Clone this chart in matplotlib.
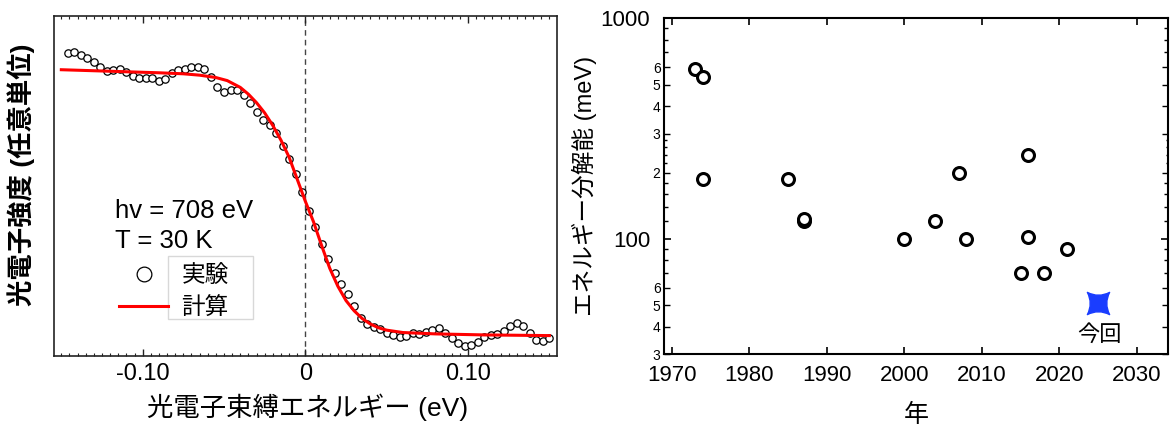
import matplotlib.pyplot as plt
from matplotlib.path import Path
from matplotlib.patches import Rectangle
from matplotlib.ticker import FixedLocator, FixedFormatter, MultipleLocator, NullFormatter

plt.rcParams['font.family'] = ['Liberation Sans', 'Noto Sans CJK JP']

# --- left panel: Fermi edge (arbitrary units) ---
ENERGY = [-0.146, -0.142, -0.138, -0.134, -0.130, -0.126, -0.122, -0.118, -0.114, -0.110,
          -0.106, -0.102, -0.098, -0.094, -0.090, -0.086, -0.082, -0.078, -0.074, -0.070,
          -0.066, -0.062, -0.058, -0.054, -0.050, -0.046, -0.042, -0.038, -0.034, -0.030,
          -0.026, -0.022, -0.018, -0.014, -0.010, -0.006, -0.002, 0.002, 0.006, 0.010,
          0.014, 0.018, 0.022, 0.026, 0.030, 0.034, 0.038, 0.042, 0.046, 0.050,
          0.054, 0.058, 0.062, 0.066, 0.070, 0.074, 0.078, 0.082, 0.086, 0.090,
          0.094, 0.098, 0.102, 0.106, 0.110, 0.114, 0.118, 0.122, 0.126, 0.130,
          0.134, 0.138, 0.142, 0.146, 0.150]
INTENSITY = [0.890, 0.894, 0.884, 0.876, 0.864, 0.851, 0.839, 0.841, 0.844, 0.834,
             0.824, 0.819, 0.818, 0.818, 0.810, 0.815, 0.831, 0.841, 0.843, 0.850,
             0.851, 0.844, 0.821, 0.792, 0.776, 0.782, 0.782, 0.768, 0.743, 0.718,
             0.694, 0.679, 0.657, 0.618, 0.579, 0.534, 0.483, 0.426, 0.379, 0.329,
             0.284, 0.245, 0.212, 0.181, 0.147, 0.113, 0.094, 0.086, 0.079, 0.069,
             0.062, 0.055, 0.059, 0.067, 0.065, 0.070, 0.076, 0.081, 0.069, 0.052,
             0.037, 0.029, 0.032, 0.042, 0.055, 0.062, 0.064, 0.074, 0.088, 0.096,
             0.088, 0.069, 0.047, 0.045, 0.052]

CALC_E = [-0.150, -0.130, -0.110, -0.090, -0.075, -0.065, -0.055, -0.048,
          -0.040, -0.035, -0.030, -0.025, -0.020, -0.015, -0.010, -0.005,
          0.000, 0.005, 0.010, 0.015, 0.020, 0.025, 0.030, 0.035, 0.040, 0.045, 0.050,
          0.060, 0.080, 0.110, 0.150]
CALC_I = [0.842, 0.839, 0.836, 0.833, 0.830, 0.826, 0.819, 0.810,
          0.790, 0.770, 0.745, 0.715, 0.678, 0.635, 0.585, 0.520,
          0.455, 0.395, 0.325, 0.258, 0.205, 0.163, 0.133, 0.110, 0.094, 0.083, 0.076,
          0.069, 0.065, 0.062, 0.060]

E_TICKS = [-0.10, 0.0, 0.10]
E_TICKLABELS = ['-0.10', '0', '0.10']

# --- right panel: energy resolution vs year ---
YEARS = [1973, 1974, 1974, 1985, 1987, 1987, 2000, 2004, 2007, 2008, 2015, 2016, 2016, 2018, 2021]
RESOLUTION = [590, 540, 186, 186, 120, 123, 100, 120, 200, 100, 70, 240, 102, 70, 90]
THIS_WORK_YEAR = [2025]
THIS_WORK_RES = [51]

YEAR_TICKS = [1970, 1980, 1990, 2000, 2010, 2020, 2030]
RES_MAJOR = [100, 1000]
RES_MAJOR_LABELS = ['100', '1000']
RES_MINOR = [30, 40, 50, 60, 70, 80, 90, 120, 140, 160, 180, 200, 220, 240, 260, 280,
             300, 400, 500, 600, 700, 800, 900]
RES_MINOR_LABELS = ['3', '4', '5', '6', '', '', '', '', '', '', '', '2', '', '', '', '',
                    '3', '4', '5', '6', '', '', '']

W, H = 1174, 425
fig = plt.figure(figsize=(W / 100, H / 100), dpi=100)

# ---------------- left panel ----------------
ax1 = fig.add_axes([54 / W, (H - 356) / H, 503 / W, 340 / H])
ax1.axvline(0, color='#444444', lw=1.0, ls=(0, (4, 3)), zorder=1)
ax1.plot(ENERGY, INTENSITY, 'o', ms=5.3, mfc='white', mec='black', mew=0.9,
         label='実験', zorder=2)
ax1.plot(CALC_E, CALC_I, color='#ff0000', lw=2.2, label='計算', zorder=3)

ax1.set_xlim(-0.1545, 0.1547)
ax1.set_ylim(0, 1)
ax1.set_yticks([])
ax1.xaxis.set_major_locator(FixedLocator(E_TICKS))
ax1.xaxis.set_major_formatter(FixedFormatter(E_TICKLABELS))
ax1.xaxis.set_minor_locator(MultipleLocator(0.005))
ax1.tick_params(axis='x', which='both', direction='in', top=True, color='#222222')
ax1.tick_params(axis='x', which='major', length=5, width=1.0, labelsize=17, pad=5)
ax1.tick_params(axis='x', which='minor', length=2.5, width=0.8)
for sp in ax1.spines.values():
    sp.set_color('#222222')
    sp.set_linewidth(1.2)

ax1.set_xlabel('光電子束縛エネルギー (eV)', fontsize=19)
ax1.xaxis.set_label_coords(0.505, -0.109)
ax1.set_ylabel('光電子強度 (任意単位)', fontsize=19, fontweight='bold')
ax1.yaxis.set_label_coords(-0.038, 0.534)

ax1.text(0.121, 0.427, 'hv = 708 eV', transform=ax1.transAxes, fontsize=18.5, va='center')
ax1.text(0.121, 0.338, 'T = 30 K', transform=ax1.transAxes, fontsize=18.5, va='center')

ax1.legend(loc='upper left', bbox_to_anchor=(0.129, 0.268), frameon=False, fontsize=17,
           handlelength=2.1, handletextpad=0.55, markerscale=2.0, labelspacing=0.45,
           borderpad=0, borderaxespad=0)
ax1.add_patch(Rectangle((0.2266, 0.1088), 0.169, 0.185, transform=ax1.transAxes,
                        fill=False, ec='#d8d8d8', lw=1.0, zorder=4))

# ---------------- right panel ----------------
ax2 = fig.add_axes([664 / W, (H - 354.3) / H, 504 / W, 336 / H])
ax2.set_yscale('log')
ax2.plot(YEARS, RESOLUTION, 'o', ms=8.6, mfc='white', mec='black', mew=2.2, ls='none')

c = 0.48
star = Path([(1, 1), (c, 0), (1, -1), (0, -c), (-1, -1), (-c, 0), (-1, 1), (0, c), (1, 1), (1, 1)],
            [Path.MOVETO, Path.CURVE3, Path.CURVE3, Path.CURVE3, Path.CURVE3,
             Path.CURVE3, Path.CURVE3, Path.CURVE3, Path.CURVE3, Path.CLOSEPOLY])
ax2.plot(THIS_WORK_YEAR, THIS_WORK_RES, marker=star, ms=16, color='#1a3dff', mec='#1a3dff',
         ls='none')
ax2.annotate('今回', xy=(THIS_WORK_YEAR[0], THIS_WORK_RES[0]), xytext=(1, -23),
             textcoords='offset points', ha='center', va='center', fontsize=16)

ax2.set_xlim(1969, 2034)
ax2.set_ylim(30, 1000)
ax2.set_xticks(YEAR_TICKS)
ax2.yaxis.set_major_locator(FixedLocator(RES_MAJOR))
ax2.yaxis.set_major_formatter(FixedFormatter(RES_MAJOR_LABELS))
ax2.yaxis.set_minor_locator(FixedLocator(RES_MINOR))
ax2.yaxis.set_minor_formatter(FixedFormatter(RES_MINOR_LABELS))
ax2.xaxis.set_minor_formatter(NullFormatter())
ax2.tick_params(axis='both', which='both', direction='in', top=True, right=True, color='black')
ax2.tick_params(axis='x', which='major', length=5, width=1.2, labelsize=16, pad=8)
ax2.tick_params(axis='y', which='major', length=5, width=1.2, labelsize=16, pad=10)
ax2.tick_params(axis='y', which='minor', length=2.5, width=1.0, labelsize=10, pad=2.5)
for tick, lab, val in zip(ax2.yaxis.get_minor_ticks(len(RES_MINOR)), RES_MINOR_LABELS, RES_MINOR):
    if lab:
        size = 4
    elif 200 < val < 300:
        size = 1.8
    else:
        size = 2.8
    tick.tick1line.set_markersize(size)
    tick.tick2line.set_markersize(size)
for sp in ax2.spines.values():
    sp.set_color('black')
    sp.set_linewidth(1.5)

ax2.set_xlabel('年', fontsize=18)
ax2.xaxis.set_label_coords(0.5, -0.145)
ax2.set_ylabel('エネルギー分解能 (meV)', fontsize=17)
ax2.yaxis.set_label_coords(-0.133, 0.5)

fig.savefig('out.png', dpi=100)
